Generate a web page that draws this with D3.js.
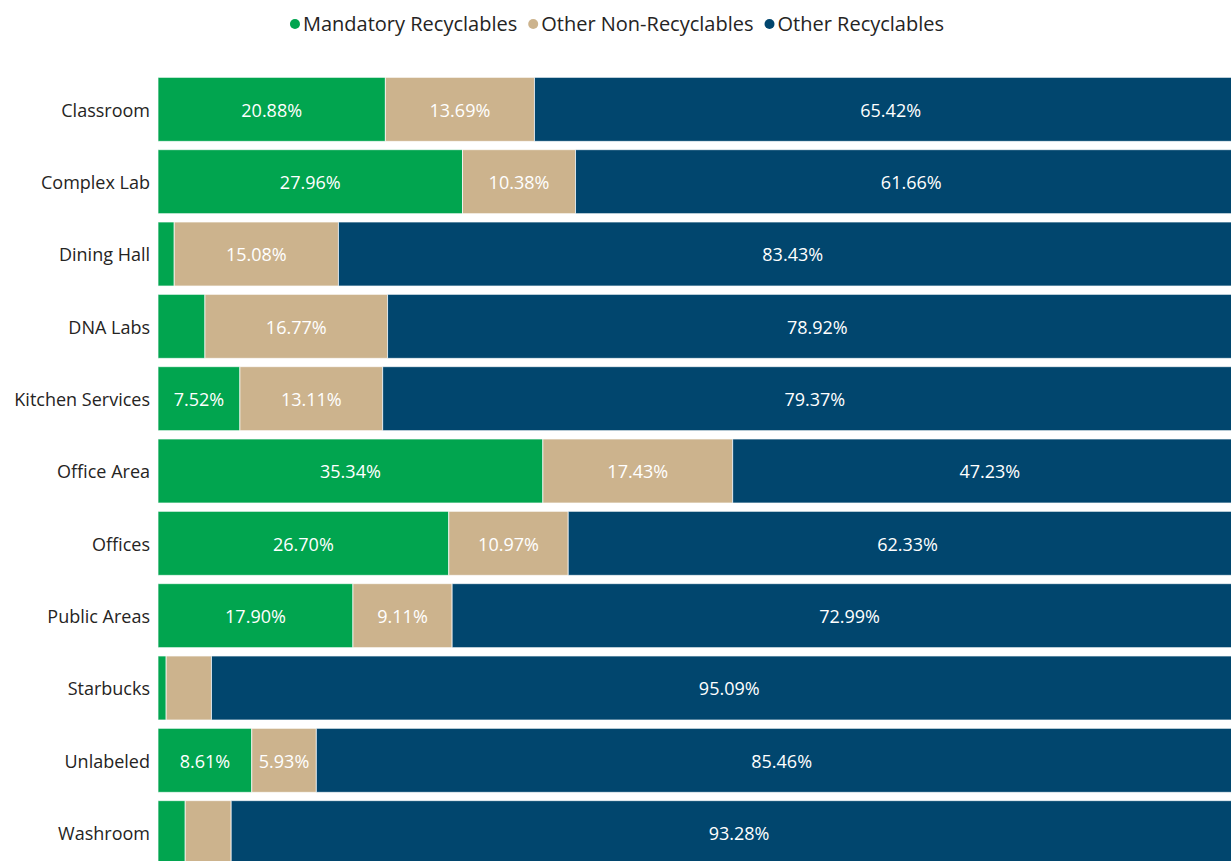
<!DOCTYPE html>
<html>
<head>
<meta charset="utf-8">
<script src="https://cdn.jsdelivr.net/npm/d3@7"></script>
<style>
  body { margin: 0; background: #fff; overflow: hidden; }
  text { font-family: "Segoe UI", "Open Sans", sans-serif; }
</style>
</head>
<body>
<div id="container"></div>
<script>
/* CONSTANTS AND GLOBALS */
const width = 1231,
  height = 861,
  margin = { top: 73, left: 158, right: -16 };

// DATA
const categories = ["Classroom", "Complex Lab", "Dining Hall", "DNA Labs", "Kitchen Services",
  "Office Area", "Offices", "Public Areas", "Starbucks", "Unlabeled", "Washroom"];
const mandatory = [20.88, 27.96, 1.49, 4.31, 7.52, 35.34, 26.70, 17.90, 0.75, 8.61, 2.50];
const nonRecyclable = [13.69, 10.38, 15.08, 16.77, 13.11, 17.43, 10.97, 9.11, 4.16, 5.93, 4.22];
const otherRecyclable = [65.42, 61.66, 83.43, 78.92, 79.37, 47.23, 62.33, 72.99, 95.09, 85.46, 93.28];
const seriesNames = ["Mandatory Recyclables", "Other Non-Recyclables", "Other Recyclables"];
const colors = ["#01A54F", "#CCB38D", "#01466E"];

const rows = categories.map((c, i) => ({
  cat: c,
  m: mandatory[i],
  n: nonRecyclable[i],
  o: otherRecyclable[i]
}));

const stack = d3.stack().keys(["m", "n", "o"]);
const series = stack(rows);

// APPEND SVG
const svg = d3.select("#container")
  .append("svg")
  .attr("width", width)
  .attr("height", height);

// SCALES
const x = d3.scaleLinear()
  .domain([0, 100])
  .range([margin.left, width - margin.right]);

const y = d3.scaleBand()
  .domain(categories)
  .range([margin.top, 869])
  .paddingInner(0.115)
  .paddingOuter(0.06);

// BARS
const groups = svg.selectAll("g.series")
  .data(series)
  .join("g")
  .attr("class", "series")
  .attr("fill", (d, i) => colors[i]);

groups.selectAll("rect")
  .data(d => d)
  .join("rect")
  .attr("x", d => x(d[0]))
  .attr("y", d => y(d.data.cat))
  .attr("width", d => x(d[1]) - x(d[0]))
  .attr("height", y.bandwidth())
  .attr("stroke", "#fff")
  .attr("stroke-opacity", 0.7)
  .attr("stroke-width", 1);

// DATA LABELS - only when the segment is wide enough
groups.selectAll("text")
  .data(d => d.filter(s => x(s[1]) - x(s[0]) > 58))
  .join("text")
  .attr("x", d => (x(d[0]) + x(d[1])) / 2)
  .attr("y", d => y(d.data.cat) + y.bandwidth() / 2)
  .attr("dy", "0.4em")
  .attr("text-anchor", "middle")
  .attr("fill", "#fff")
  .attr("font-size", 18)
  .text(d => (d[1] - d[0]).toFixed(2) + "%");

// Y AXIS
const yAxis = svg.append("g")
  .attr("transform", `translate(${margin.left}, 0)`)
  .call(d3.axisLeft(y).tickSize(0).tickPadding(8));
yAxis.select(".domain").remove();
yAxis.selectAll("text")
  .attr("font-size", 18)
  .attr("dy", "0.4em")
  .attr("fill", "#252423")
  .style("font-family", '"Segoe UI", "Open Sans", sans-serif');

// LEGEND
const legend = svg.append("g").attr("class", "legend");
let lx = 0;
seriesNames.forEach((name, i) => {
  const item = legend.append("g").attr("transform", `translate(${lx}, 0)`);
  item.append("circle")
    .attr("cx", 5)
    .attr("cy", 0)
    .attr("r", 5)
    .attr("fill", colors[i]);
  const t = item.append("text")
    .attr("x", 13)
    .attr("y", 0)
    .attr("dy", "0.36em")
    .attr("font-size", 20)
    .attr("fill", "#252423")
    .text(name);
  lx += 13 + t.node().getComputedTextLength() + 11;
});
const legendWidth = lx - 11;
legend.attr("transform", `translate(${(617 - legendWidth / 2)}, 24)`);
</script>
</body>
</html>
